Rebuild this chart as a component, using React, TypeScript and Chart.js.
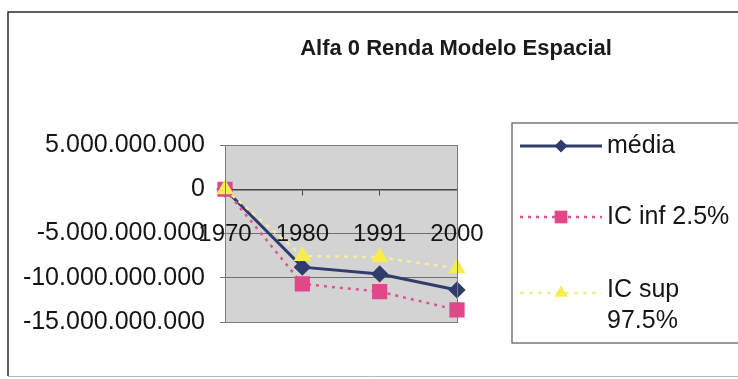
import React, { useEffect, useRef } from 'react';
import { Chart, registerables } from 'chart.js';
Chart.register(...registerables);

const chartTitle = 'Alfa 0 Renda Modelo Espacial';
const categories = ['1970', '1980', '1991', '2000'];
const media = [0, -8.8e9, -9.57e9, -11.38e9];
const icInf = [0, -10.7e9, -11.57e9, -13.64e9];
const icSup = [0, -7.54e9, -7.68e9, -8.93e9];
const yMin = -15e9;
const yMax = 5e9;
const yStep = 5e9;
const seriesNames: (string | string[])[] = ['média', 'IC inf 2.5%', ['IC sup', '97.5%']];

const FONT = '"Liberation Sans", Arial, sans-serif';

function fmt(v: number) {
  const s = Math.abs(Math.round(v)).toString().replace(/\B(?=(\d{3})+(?!\d))/g, '.');
  return (v < 0 ? '-' : '') + s;
}

function drawMarker(ctx: CanvasRenderingContext2D, style: string, x: number, y: number, r: number, color: string) {
  ctx.save();
  ctx.fillStyle = color;
  ctx.setLineDash([]);
  ctx.beginPath();
  if (style === 'rectRot') {
    ctx.moveTo(x, y - r);
    ctx.lineTo(x + r, y);
    ctx.lineTo(x, y + r);
    ctx.lineTo(x - r, y);
    ctx.closePath();
  } else if (style === 'rect') {
    const s = r * Math.SQRT1_2;
    ctx.rect(x - s, y - s, 2 * s, 2 * s);
  } else {
    const h = r * 1.5;
    ctx.moveTo(x, y - h * 0.66);
    ctx.lineTo(x + r * 0.87, y + h * 0.34);
    ctx.lineTo(x - r * 0.87, y + h * 0.34);
    ctx.closePath();
  }
  ctx.fill();
  ctx.restore();
}

const framePlugin = {
  id: 'frame',
  beforeDraw(chart: any) {
    const ctx = chart.ctx as CanvasRenderingContext2D;
    const a = chart.chartArea;
    ctx.save();
    ctx.fillStyle = '#ffffff';
    ctx.fillRect(0, 0, chart.width, chart.height);
    // outer border
    ctx.strokeStyle = '#2a2a2a';
    ctx.lineWidth = 1.5;
    ctx.beginPath();
    ctx.moveTo(8, 376);
    ctx.lineTo(8, 12);
    ctx.lineTo(740, 12);
    ctx.stroke();
    ctx.strokeStyle = '#b5b5b5';
    ctx.lineWidth = 1;
    ctx.beginPath();
    ctx.moveTo(8, 376.5);
    ctx.lineTo(740, 376.5);
    ctx.stroke();
    // title
    ctx.fillStyle = '#1a1a1a';
    ctx.font = `bold 22px ${FONT}`;
    ctx.textAlign = 'center';
    ctx.textBaseline = 'middle';
    ctx.fillText(chartTitle, 456, 49);
    // plot area
    ctx.fillStyle = '#d3d3d3';
    ctx.fillRect(a.left, a.top, a.right - a.left, a.bottom - a.top);
    ctx.restore();
  },
  afterDraw(chart: any) {
    const ctx = chart.ctx as CanvasRenderingContext2D;
    const a = chart.chartArea;
    ctx.save();
    ctx.strokeStyle = '#7a7a7a';
    ctx.lineWidth = 1;
    ctx.strokeRect(a.left + 0.5, a.top + 0.5, a.right - a.left, a.bottom - a.top);
    // legend box
    ctx.strokeStyle = '#555';
    ctx.lineWidth = 1.2;
    ctx.strokeRect(512, 123, 300, 220);
    const rows = [146, 217, 293];
    const textRows = [[146], [217], [290, 321]];
    chart.data.datasets.forEach((ds: any, i: number) => {
      const y = rows[i];
      ctx.save();
      ctx.strokeStyle = ds.borderColor;
      ctx.lineWidth = ds.borderWidth;
      ctx.setLineDash(ds.borderDash || []);
      ctx.beginPath();
      ctx.moveTo(520, y);
      ctx.lineTo(602, y);
      ctx.stroke();
      ctx.restore();
      drawMarker(ctx, ds.pointStyle, 561, y, ds.pointRadius, ds.pointBackgroundColor);
      const name = seriesNames[i];
      const lines = Array.isArray(name) ? name : [name];
      ctx.fillStyle = '#151515';
      ctx.font = `25px ${FONT}`;
      ctx.textAlign = 'left';
      ctx.textBaseline = 'middle';
      lines.forEach((t, k) => ctx.fillText(t, 607, textRows[i][k]));
    });
    ctx.restore();
  },
};

export default function App() {
  const ref = useRef<HTMLCanvasElement>(null);
  useEffect(() => {
    if (!ref.current) return;
    const chart = new Chart(ref.current, {
      type: 'line',
      data: {
        labels: categories,
        datasets: [
          {
            label: 'média',
            data: media,
            borderColor: '#2F3C6C',
            backgroundColor: '#2F3C6C',
            pointBackgroundColor: '#2F3C6C',
            pointBorderColor: '#2F3C6C',
            borderWidth: 3,
            pointStyle: 'rectRot',
            pointRadius: 6.5,
            tension: 0,
            order: 2,
          },
          {
            label: 'IC inf 2.5%',
            data: icInf,
            borderColor: '#DF5390',
            backgroundColor: '#E0488A',
            pointBackgroundColor: '#E0488A',
            pointBorderColor: '#E0488A',
            borderWidth: 2.5,
            borderDash: [3, 5],
            pointStyle: 'rect',
            pointRadius: 9,
            tension: 0,
            order: 1,
          },
          {
            label: 'IC sup 97.5%',
            data: icSup,
            borderColor: '#F3EE9A',
            backgroundColor: '#F6EC50',
            pointBackgroundColor: '#F6EC50',
            pointBorderColor: '#F6EC50',
            borderWidth: 2.5,
            borderDash: [4, 5],
            pointStyle: 'triangle',
            pointRadius: 7.5,
            tension: 0,
            order: 0,
          },
        ],
      },
      options: {
        responsive: false,
        animation: false,
        layout: { padding: { left: 0, right: 281, top: 145, bottom: 57 } },
        plugins: { legend: { display: false }, tooltip: { enabled: false }, title: { display: false } },
        scales: {
          y: {
            min: yMin,
            max: yMax,
            afterFit: (s: any) => { s.width = 225; },
            ticks: {
              stepSize: yStep,
              callback: (v: any) => fmt(Number(v)),
              color: '#151515',
              font: { family: FONT, size: 25 },
              padding: 15,
            },
            grid: { color: '#6e6e6e', lineWidth: 1, tickLength: 5, drawTicks: true },
            border: { display: true, color: '#7a7a7a' },
          },
          x: {
            type: 'category',
            offset: false,
            position: { y: 0 } as any,
            ticks: {
              color: '#151515',
              font: { family: FONT, size: 24 },
              padding: 26,
              maxRotation: 0,
              autoSkip: false,
            },
            grid: { drawOnChartArea: false, drawTicks: true, tickLength: 5, color: '#444' },
            border: { display: true, color: '#444', width: 1.5 },
          },
        },
      },
      plugins: [framePlugin],
    });
    return () => chart.destroy();
  }, []);
  return (
    <div style={{ position: 'absolute', left: 0, top: 0, width: 738, height: 379, background: '#fff' }}>
      <canvas ref={ref} width={738} height={379} style={{ display: 'block' }} />
    </div>
  );
}
